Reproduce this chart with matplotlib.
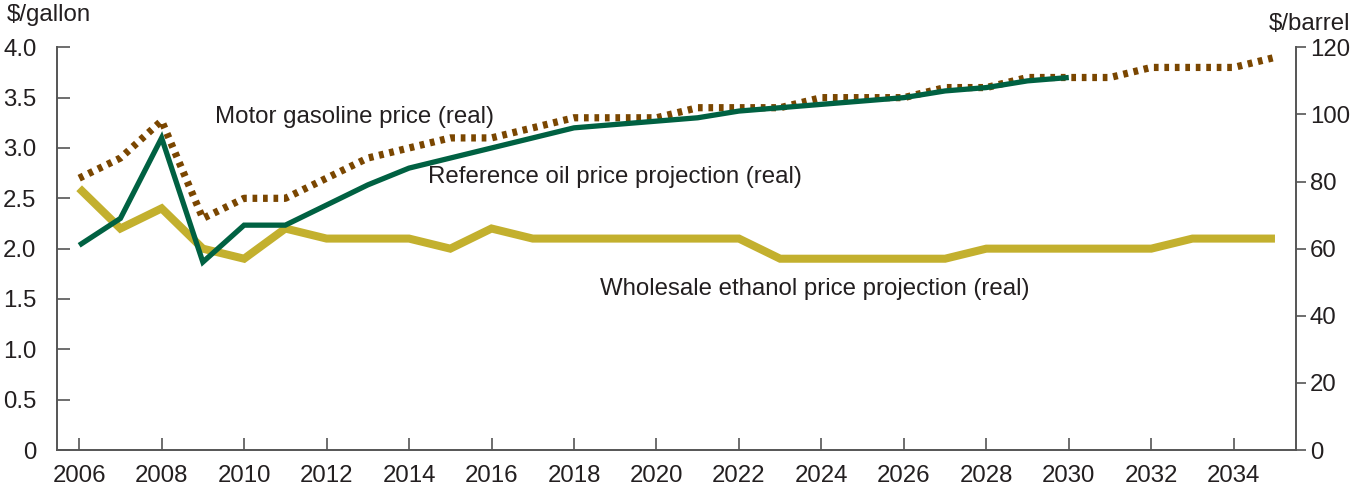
import matplotlib
matplotlib.use("Agg")
import matplotlib.pyplot as plt

plt.rcParams['font.family'] = ['Liberation Sans', 'DejaVu Sans']

years = list(range(2006, 2036))
oil_years = list(range(2006, 2031))

ethanol = [2.6, 2.2, 2.4, 2.0, 1.9, 2.2, 2.1, 2.1, 2.1, 2.0,
           2.2, 2.1, 2.1, 2.1, 2.1, 2.1, 2.1, 1.9, 1.9, 1.9,
           1.9, 1.9, 2.0, 2.0, 2.0, 2.0, 2.0, 2.1, 2.1, 2.1]
gasoline = [2.7, 2.9, 3.27, 2.3, 2.5, 2.5, 2.7, 2.9, 3.0, 3.1,
            3.1, 3.2, 3.3, 3.3, 3.3, 3.4, 3.4, 3.4, 3.5, 3.5,
            3.5, 3.6, 3.6, 3.7, 3.7, 3.7, 3.8, 3.8, 3.8, 3.9]
oil = [61, 69, 93, 56, 67, 67, 73, 79, 84, 87,
       90, 93, 96, 97, 98, 99, 101, 102, 103, 104,
       105, 107, 108, 110, 111]

left_ticks = [0, 0.5, 1.0, 1.5, 2.0, 2.5, 3.0, 3.5, 4.0]
left_labels = ['0', '0.5', '1.0', '1.5', '2.0', '2.5', '3.0', '3.5', '4.0']
right_ticks = [0, 20, 40, 60, 80, 100, 120]
x_ticks = list(range(2006, 2036, 2))

C_ETH = '#C3B02E'
C_GAS = '#7A4600'
C_OIL = '#006142'
C_TXT = '#231F20'
C_AX = '#555555'
FS = 17.3

fig = plt.figure(figsize=(13.66, 4.90), dpi=100)
ax = fig.add_axes([57.3/1366, 1-450/490, (1296-57.3)/1366, (450-47.3)/490])
ax2 = ax.twinx()

ax.plot(years, ethanol, color=C_ETH, lw=5.8, solid_capstyle='butt', solid_joinstyle='miter', zorder=2)
ax.plot(years, gasoline, color=C_GAS, lw=5.2, linestyle=(0, (0.65, 0.8)), dash_capstyle='butt', zorder=3)
ax.set_zorder(1)
ax.patch.set_visible(False)
ax2.set_zorder(2)
ax2.plot(oil_years, oil, color=C_OIL, lw=3.8, solid_capstyle='butt', solid_joinstyle='miter', zorder=4)

ax.set_xlim(2005.47, 2035.51)
ax.set_ylim(0, 4)
ax2.set_ylim(0, 120)

ax.set_yticks(left_ticks)
ax.set_yticklabels(left_labels)
ax.set_xticks(x_ticks)
ax.set_xticklabels([str(x) for x in x_ticks])
ax2.set_yticks(right_ticks)
ax2.set_yticklabels([str(v) for v in right_ticks])

for a in (ax, ax2):
    for s in a.spines.values():
        s.set_color(C_AX)
        s.set_linewidth(1.4)
    a.spines['top'].set_visible(False)

ax.spines['right'].set_visible(False)
ax2.spines['left'].set_visible(False)
ax2.spines['bottom'].set_visible(False)

ax.tick_params(axis='y', direction='in', length=9, width=1.2, color=C_AX,
               labelsize=FS, labelcolor=C_TXT, pad=15)
ax.tick_params(axis='x', direction='in', length=9, width=1.2, color=C_AX,
               labelsize=FS, labelcolor=C_TXT, pad=11)
ax2.tick_params(axis='y', direction='out', length=7, width=1.2, color=C_AX,
                labelsize=FS, labelcolor=C_TXT, pad=3)

ax.text(2009.30, 3.305, 'Motor gasoline price (real)', fontsize=FS, color=C_TXT,
        ha='left', va='center')
ax.text(2014.46, 2.71, 'Reference oil price projection (real)', fontsize=FS, color=C_TXT,
        ha='left', va='center')
ax.text(2018.63, 1.60, 'Wholesale ethanol price projection (real)', fontsize=FS, color=C_TXT,
        ha='left', va='center')

fig.text(7/1366, 1-15/490, '$/gallon', fontsize=FS, color=C_TXT, ha='left', va='center')
fig.text(1350/1366, 1-24/490, '$/barrel', fontsize=FS, color=C_TXT, ha='right', va='center')

fig.savefig('out.png', dpi=100)
